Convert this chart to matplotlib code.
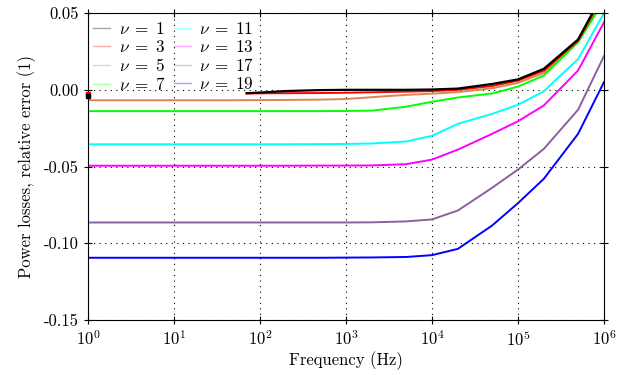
import matplotlib
matplotlib.use('Agg')
import matplotlib.pyplot as plt
from matplotlib.lines import Line2D
import numpy as np

plt.rcParams['font.family'] = 'cmr10'
plt.rcParams['mathtext.fontset'] = 'cm'
plt.rcParams['axes.unicode_minus'] = False
plt.rcParams['axes.formatter.use_mathtext'] = True

# frequency grid (Hz)
freq = [1, 2, 5, 1e1, 2e1, 5e1, 1e2, 2e2, 5e2, 1e3, 2e3, 5e3,
        1e4, 2e4, 5e4, 1e5, 2e5, 5e5, 1e6]
# nu = 1 and nu = 3 only have data from ~70 Hz on (plus one point at 1 Hz)
freq_hf = [70, 1e2, 2e2, 5e2, 1e3, 2e3, 5e3, 1e4, 2e4, 5e4, 1e5, 2e5, 5e5, 1e6]

# relative error of power losses
err_1 = [-0.0022, -0.0018, -0.0008, -0.0002, 0.0, 0.0, 0.0, 0.0002,
         0.0008, 0.0038, 0.0068, 0.0137, 0.0328, 0.064]
err_3 = [-0.0024, -0.0023, -0.0022, -0.0021, -0.0019, -0.0016, -0.0012,
         -0.0008, 0.0, 0.0025, 0.006, 0.0125, 0.032, 0.062]
err_1_dc = -0.004
err_3_dc = -0.0027
err_5 = [-0.0068, -0.0068, -0.0068, -0.0068, -0.0068, -0.0068, -0.0067,
         -0.0066, -0.0064, -0.0060, -0.0048, -0.0033, -0.0025, -0.0015,
         0.001, 0.0045, 0.011, 0.032, 0.061]
err_7 = [-0.0139, -0.0139, -0.0139, -0.0139, -0.0139, -0.0139, -0.0139,
         -0.0139, -0.0139, -0.0138, -0.0136, -0.0110, -0.0078, -0.0050,
         -0.0024, 0.0021, 0.0093, 0.031, 0.058]
err_11 = [-0.0355, -0.0355, -0.0355, -0.0355, -0.0355, -0.0355, -0.0355,
          -0.0355, -0.0354, -0.0353, -0.0350, -0.0337, -0.0300, -0.0222,
          -0.0157, -0.0098, -0.0009, 0.020, 0.050]
err_13 = [-0.0495, -0.0495, -0.0495, -0.0495, -0.0495, -0.0495, -0.0495,
          -0.0495, -0.0494, -0.0494, -0.0493, -0.0485, -0.0455, -0.0390,
          -0.0287, -0.0205, -0.0102, 0.0126, 0.044]
err_17 = [-0.0865, -0.0865, -0.0865, -0.0865, -0.0865, -0.0865, -0.0865,
          -0.0865, -0.0865, -0.0865, -0.0864, -0.0858, -0.0845, -0.0787,
          -0.0639, -0.0520, -0.0385, -0.0130, 0.022]
err_19 = [-0.1095, -0.1095, -0.1095, -0.1095, -0.1095, -0.1095, -0.1095,
          -0.1095, -0.1095, -0.1094, -0.1093, -0.1090, -0.1078, -0.1037,
          -0.0885, -0.0739, -0.0580, -0.0287, 0.005]

nus = [1, 3, 5, 7, 11, 13, 17, 19]
cols = ['k', 'r', '#dd8452', '#00ff00', '#00ffff', '#ff00ff', '#8c5fa0', '#0000ff']

fig = plt.figure(figsize=(6.22, 3.75), dpi=100)
ax = fig.add_axes([0.1415, 0.147, 0.8295, 0.818])

ax.plot(freq_hf, err_1, color=cols[0], lw=1.6, zorder=5)
ax.plot(freq_hf, err_3, color=cols[1], lw=1.4, zorder=4)
ax.plot([1], [err_1_dc], 's', color=cols[0], ms=2.5, clip_on=False, zorder=5)
ax.plot([1], [err_3_dc], 's', color=cols[1], ms=2.5, clip_on=False, zorder=4)
for e, c in zip([err_5, err_7, err_11, err_13, err_17, err_19], cols[2:]):
    ax.plot(freq, e, color=c, lw=1.4)

ax.set_xscale('log')
ax.set_xlim(1, 1e6)
ax.set_ylim(-0.15, 0.05)
ax.set_yticks([-0.15, -0.10, -0.05, 0.00, 0.05])
ax.set_yticklabels(['-0.15', '-0.10', '-0.05', '0.00', '0.05'])
ax.xaxis.set_minor_locator(matplotlib.ticker.NullLocator())
ax.tick_params(direction='inout', length=6, top=True, right=True, labelsize=12)
ax.grid(True, color='k', linestyle=(0, (1, 4)), linewidth=0.8)
ax.set_xlabel('Frequency (Hz)', fontsize=12, labelpad=2)
ax.set_ylabel('Power losses, relative error (1)', fontsize=12, labelpad=6)

handles = [Line2D([], [], color=c, lw=1, alpha=0.35) for c in cols]
labels = [r'$\nu\;=\;%d$' % n for n in nus]
ax.legend(handles, labels, ncol=2, frameon=False, loc='upper left',
          bbox_to_anchor=(0.0, 0.99), fontsize=12.3, handlelength=1.0,
          handletextpad=0.5, labelspacing=0.12, columnspacing=0.5,
          borderaxespad=0.0, borderpad=0.3)

fig.savefig('out.png', dpi=100)
